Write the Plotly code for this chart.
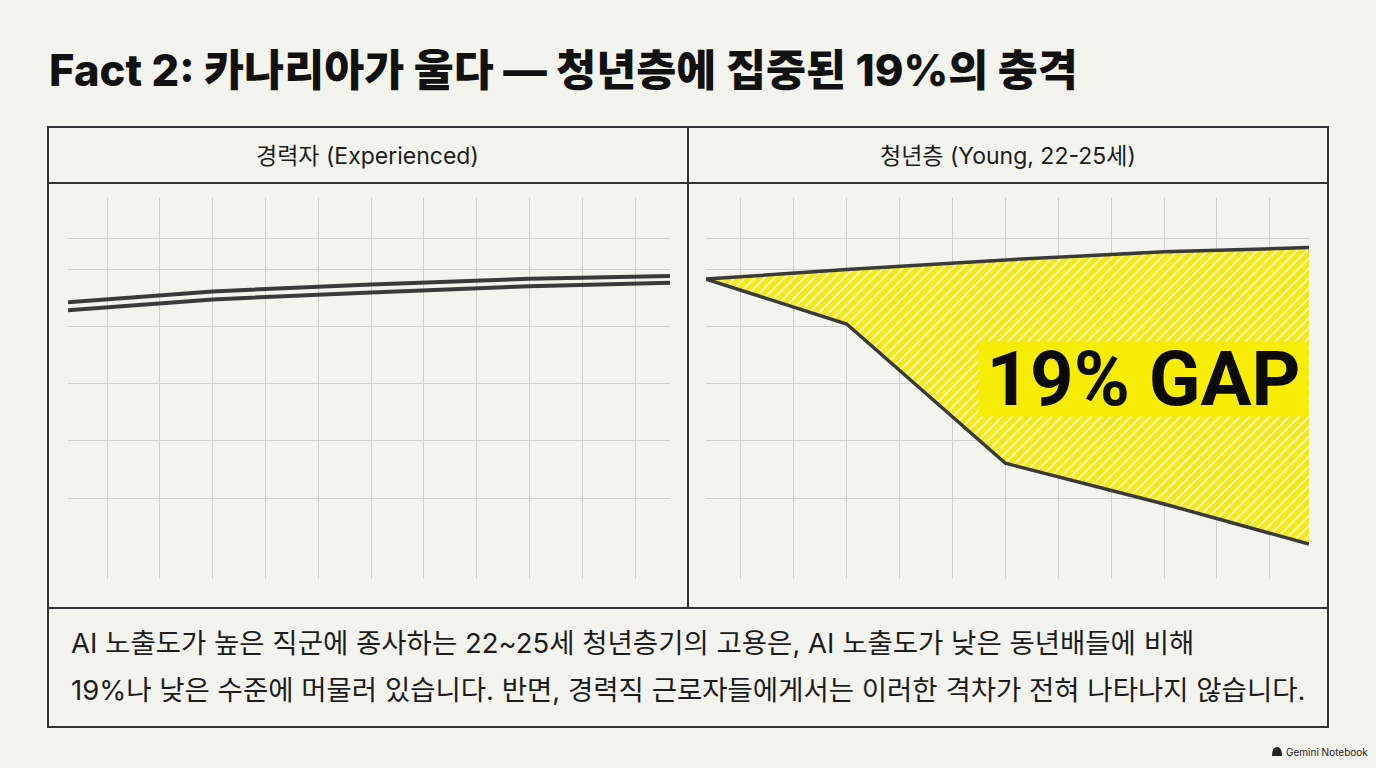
import plotly.graph_objects as go

# ---------- data ----------
# x positions: grid columns 0..10, line start/end sit just outside the grid
x_exp = [-0.74, 2, 5, 8, 10.66]
x_young = [-0.66, 2, 5, 8, 10.74]

# employment index, experienced workers (two close series)
exp_high = [94.2, 96.1, 97.3, 98.3, 98.8]
exp_low = [92.8, 94.7, 95.9, 97.0, 97.6]

# employment index, young workers 22-25
young_low_ai = [98.25, 99.9, 101.6, 103.0, 103.75]
young_high_ai = [98.25, 90.4, 66.1, 59.0, 52.0]

grid_x = list(range(0, 11))
grid_y = [60, 70, 80, 90, 100, 105.4]

title_text = "Fact 2: 카나리아가 울다 — 청년층에 집중된 19%의 충격"
panel_titles = ["경력자 (Experienced)", "청년층 (Young, 22-25세)"]
gap_label = "19% GAP"
body_lines = [
    "AI 노출도가 높은 직군에 종사하는 22~25세 청년층기의 고용은, AI 노출도가 낮은 동년배들에 비해",
    "19%나 낮은 수준에 머물러 있습니다. 반면, 경력직 근로자들에게서는 이러한 격차가 전혀 나타나지 않습니다.",
]

# ---------- styling ----------
W, H = 1376, 768
BG = "#f4f4ef"
INK = "#1c1c1c"
LINE = "#3a3a3a"
GRID = "#cfcfcb"
YELLOW = "#f3e81a"
FONT = "Inter, 'Noto Sans CJK KR'"


def px(x):
    return x / W


def py(y):
    return 1 - y / H


fig = go.Figure()

# left panel: two nearly parallel lines
for ys in (exp_high, exp_low):
    fig.add_trace(go.Scatter(x=x_exp, y=ys, mode="lines", xaxis="x", yaxis="y",
                             line=dict(color=LINE, width=4), hoverinfo="skip"))

# right panel: gap filled with hatched yellow
fig.add_trace(go.Scatter(x=x_young, y=young_low_ai, mode="lines", xaxis="x2", yaxis="y2",
                         line=dict(color=LINE, width=3.5), hoverinfo="skip"))
fig.add_trace(go.Scatter(x=x_young, y=young_high_ai, mode="lines", xaxis="x2", yaxis="y2",
                         line=dict(color=LINE, width=3.5), fill="tonexty", fillcolor=YELLOW,
                         fillpattern=dict(shape="/", bgcolor=YELLOW, fgcolor="#ffffff",
                                          fgopacity=0.75, size=7, solidity=0.25),
                         hoverinfo="skip"))

ax_common = dict(showticklabels=False, ticks="", zeroline=False, showline=False,
                 showgrid=True, gridcolor=GRID, gridwidth=1, fixedrange=True)
y_dom = [py(579), py(198)]
y_rng = [45.9, 112.4]

fig.update_layout(
    width=W, height=H,
    margin=dict(l=0, r=0, t=0, b=0),
    paper_bgcolor=BG, plot_bgcolor=BG,
    showlegend=False,
    font=dict(family=FONT, color=INK),
    xaxis=dict(domain=[px(68), px(670)], range=[-0.74, 10.66], tickvals=grid_x, anchor="y", **ax_common),
    yaxis=dict(domain=y_dom, range=y_rng, tickvals=grid_y, anchor="x", **ax_common),
    xaxis2=dict(domain=[px(706), px(1309)], range=[-0.66, 10.74], tickvals=grid_x, anchor="y2", **ax_common),
    yaxis2=dict(domain=y_dom, range=y_rng, tickvals=grid_y, anchor="x2", **ax_common),
)

# frame of the card
border = dict(color="#333333", width=2)
fig.add_shape(type="rect", xref="paper", yref="paper", x0=px(48), x1=px(1328), y0=py(727), y1=py(127), line=border)
fig.add_shape(type="line", xref="paper", yref="paper", x0=px(48), x1=px(1328), y0=py(183), y1=py(183), line=border)
fig.add_shape(type="line", xref="paper", yref="paper", x0=px(48), x1=px(1328), y0=py(608), y1=py(608), line=border)
fig.add_shape(type="line", xref="paper", yref="paper", x0=px(688), x1=px(688), y0=py(608), y1=py(127), line=border)

# title
fig.add_annotation(text=title_text, xref="paper", yref="paper", x=px(47), y=py(70),
                   xanchor="left", yanchor="middle", showarrow=False,
                   font=dict(size=43.5, color="#111111", family=FONT, weight=800))

# panel headers
for cx, t in zip((368, 1008), panel_titles):
    fig.add_annotation(text=t, xref="paper", yref="paper", x=px(cx), y=py(156),
                       xanchor="center", yanchor="middle", showarrow=False,
                       font=dict(size=23, color=INK, family=FONT))

# gap label
fig.add_annotation(text=f"<b>{gap_label}</b>", xref="paper", yref="paper", x=px(1143.5), y=py(379),
                   xanchor="center", yanchor="middle", showarrow=False,
                   width=327, height=72, bgcolor="#f7ec05",
                   font=dict(size=76, color="#0a0a0a", family="Roboto"))

# body text
for ly, t in zip((643, 690), body_lines):
    fig.add_annotation(text=t, xref="paper", yref="paper", x=px(69), y=py(ly),
                       xanchor="left", yanchor="middle", showarrow=False,
                       font=dict(size=27.5, color=INK, family=FONT))

# footer badge
fig.add_shape(type="path", xref="paper", yref="paper", fillcolor="#222222", line=dict(width=0),
              path=f"M {px(1272)} {py(756)} Q {px(1272)} {py(747)} {px(1277)} {py(747)} "
                   f"Q {px(1282)} {py(747)} {px(1282)} {py(756)} Z")
fig.add_annotation(text="Gemini Notebook", xref="paper", yref="paper", x=px(1284), y=py(752),
                   xanchor="left", yanchor="middle", showarrow=False,
                   font=dict(size=10, color="#222222", family="Inter"))

fig.write_html("out.html", config={"displayModeBar": False},
               post_script="document.body.style.margin='0';")
